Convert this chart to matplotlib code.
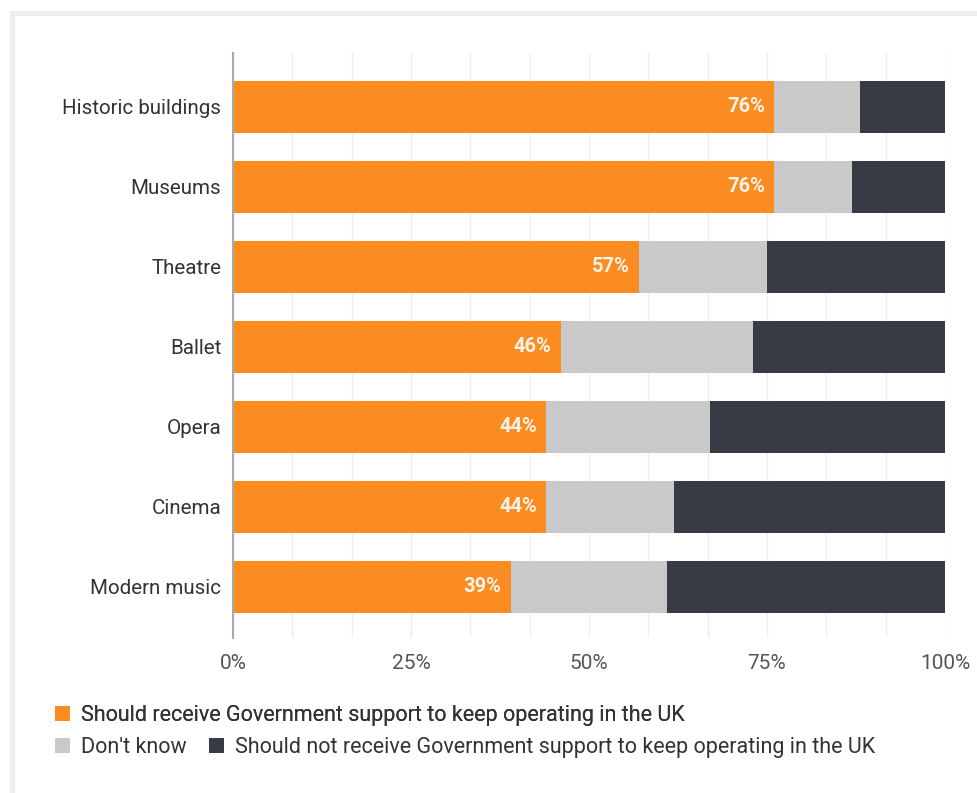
"""Support for arts and heritage sectors - stacked bar chart"""

import matplotlib
matplotlib.use("Agg")
import matplotlib.pyplot as plt
from matplotlib.patches import Rectangle, Patch
import numpy as np

plt.rcParams['font.family'] = ['Roboto', 'DejaVu Sans']

categories = ["Historic buildings", "Museums", "Theatre", "Ballet",
              "Opera", "Cinema", "Modern music"]
should_support = [76, 76, 57, 46, 44, 44, 39]
dont_know = [12, 11, 18, 27, 23, 18, 22]
should_not = [12, 13, 25, 27, 33, 38, 39]

series_names = [
    "Should receive Government support to keep operating in the UK",
    "Don't know",
    "Should not receive Government support to keep operating in the UK",
]
colors = ["#FA8C22", "#C9C9C9", "#363B44"]

W, H = 978, 793
fig = plt.figure(figsize=(W / 100, H / 100), dpi=100)
fig.patch.set_facecolor("white")

# light grey frame along the top and left edges
fig.add_artist(Rectangle((12.5 / W, -0.2), 1.5, 1.2 - 12.5 / H,
                         transform=fig.transFigure, facecolor="none",
                         edgecolor="#EEEEEE", linewidth=3.6))

ax = fig.add_axes([233 / W, 1 - 638 / H, (945 - 233) / W, (638 - 53) / H])

y = np.arange(len(categories))
left = np.zeros(len(categories))
bars = []
for vals, col in zip([should_support, dont_know, should_not], colors):
    b = ax.barh(y, vals, left=left, height=0.65, color=col, zorder=3)
    bars.append(b)
    left += np.array(vals)

# value labels at the end of the orange segment
for yi, v in zip(y, should_support):
    ax.text(v - 1.3, yi, f"{v}%", ha="right", va="center", color="white",
            alpha=0.9, fontsize=14.5, fontweight="bold", zorder=4)

ax.set_xlim(0, 100)
ax.set_ylim(6.64, -0.675)
ax.set_yticks(y)
ax.set_yticklabels(categories, fontsize=14.8, color="#333333")
ax.set_xticks([0, 25, 50, 75, 100])
ax.set_xticklabels(["0%", "25%", "50%", "75%", "100%"], fontsize=15,
                   color="#555555")
ax.set_xticks(np.arange(0, 100.1, 25 / 3), minor=True)
ax.tick_params(axis="both", length=0, which="both")
ax.tick_params(axis="x", pad=11.5)
ax.tick_params(axis="y", pad=8.5)
ax.grid(True, axis="x", which="both", color="#EFEFEF", linewidth=1, zorder=0)

for s in ["top", "right", "bottom"]:
    ax.spines[s].set_visible(False)
ax.spines["left"].set_color("#A7ABB0")
ax.spines["left"].set_linewidth(1.5)
ax.spines["left"].set_zorder(5)

handles = [Patch(facecolor=c, edgecolor="none") for c in colors]
leg_kw = dict(loc="upper left", frameon=False, fontsize=15.5,
              handlelength=0.7, handleheight=0.7, handletextpad=0.5,
              borderaxespad=0, borderpad=0, labelcolor="#333333")
leg1 = fig.legend([handles[0]], [series_names[0]],
                  bbox_to_anchor=(55 / W, 1 - 705 / H), **leg_kw)
fig.add_artist(leg1)
fig.legend(handles[1:], series_names[1:], ncol=2, columnspacing=1.05,
           bbox_to_anchor=(55 / W, 1 - 737 / H), **leg_kw)

fig.savefig("out.png", dpi=100)
plt.close(fig)
